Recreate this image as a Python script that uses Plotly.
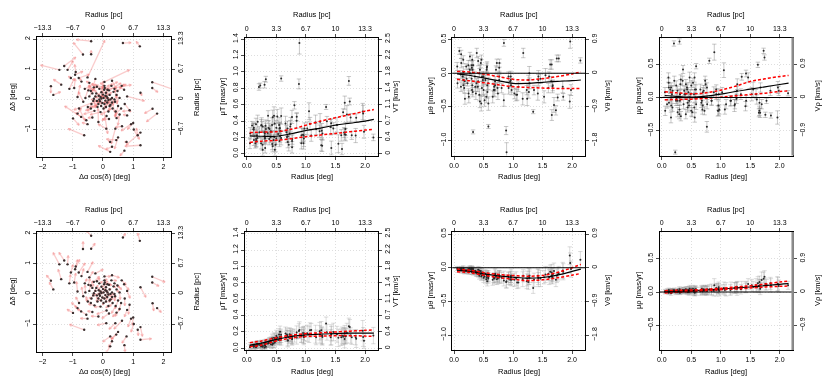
import numpy as np
import plotly.graph_objects as go

# ---------------- data ----------------
pos_x = [-0.39, 0.66, 1.22, -0.66, -0.39, -1.28, -1.44, -1.17, -0.90, -0.92,
         -1.06, -0.80, -0.51, -0.71, -1.72, -1.38, -1.11, -0.95, -1.64, -0.84,
         1.63, 1.63, 1.24, 1.64, 1.79, -0.79, -0.84, -0.99, -0.72, -0.55,
         -0.51, -0.62, 0.11, 0.41, 0.63, 0.80, 0.88, 0.93, 1.00, 1.02,
         1.15, 1.24, 1.24, 0.50, 0.44, 0.24, 0.30, 0.24, 0.78, 0.71,
         0.62, 0.70, 0.55, -0.60, -0.45, 0.30, -0.35, 0.20, 0.45, -0.65,
         0.72, -0.25, 0.05, -0.15, 0.80, 0.02, -0.05, 0.08, -0.10, 0.12,
         -0.14, 0.05, 0.18, -0.20, 0.10, -0.05, 0.22, -0.22, 0.25, -0.18,
         0.02, 0.30, -0.30, 0.15, -0.12, 0.35, -0.35, 0.32, -0.38, 0.40,
         -0.08, 0.18, -0.28, 0.45, -0.45, 0.05, -0.30, 0.28, 0.50, -0.50,
         0.12, -0.48, 0.55, 0.08, -0.02, 0.14, -0.12, 0.00, 0.20, -0.25,
         0.38, 0.10, -0.15, 0.25, -0.40, 0.38, 0.22, -0.08, 0.04, -0.20,
         0.42, -0.58, 0.48, 0.30, -0.32, 0.15, -0.06, 0.06, -0.40, 0.60]
pos_y = [1.93, 1.87, 1.76, 1.49, 1.50, 1.11, 0.98, 0.98, 0.91, 0.82,
         0.71, 0.71, 0.73, 0.59, 0.44, 0.49, 0.35, 0.38, 0.15, 0.08,
         0.57, 0.38, 0.22, -0.31, -0.47, -0.30, -0.47, -0.63, -0.58, -0.69,
         -0.82, -1.19, -0.97, -0.97, -0.89, -0.53, -0.36, -0.82, -0.78, -1.00,
         -1.19, -1.10, -1.52, -1.26, -1.35, -1.41, -1.57, -1.74, -1.41, -1.70,
         0.45, 0.32, -0.50, 0.35, 0.55, 0.62, -0.60, -0.65, -0.62, -0.08,
         -0.15, 0.68, 0.58, -0.75, 0.10, 0.05, 0.03, -0.04, -0.06, 0.10,
         0.12, -0.15, -0.02, -0.05, 0.22, 0.24, 0.15, 0.20, -0.18, -0.25,
         -0.30, 0.05, 0.02, 0.32, 0.35, 0.25, 0.20, -0.30, -0.15, -0.08,
         -0.42, -0.40, -0.38, 0.15, 0.10, 0.45, 0.40, 0.45, -0.22, -0.25,
         -0.55, 0.30, 0.05, 0.12, -0.12, -0.10, 0.00, 0.16, 0.30, 0.10,
         0.00, -0.25, -0.15, 0.00, -0.30, 0.35, -0.22, 0.08, 0.32, 0.42,
         -0.40, 0.05, 0.28, -0.10, -0.05, 0.05, -0.22, 0.38, 0.28, -0.30]

# observed proper motions (top row) [mas/yr]
mu_theta = [0.47, -0.25, 0.19, 0.13, -0.03, -0.47, 0.22, -0.35, -0.15, -0.25,
            0.00, -0.32, -1.17, -0.05, 0.22, -0.08, -0.38, -0.30, -0.12, -0.40,
            -0.55, -0.18, -0.10, -0.20, -0.35, 0.45, -0.10, 0.30, -0.22, -0.85,
            -0.18, -0.57, -0.25, -0.32, -0.20, -0.05, -0.12, -0.38, -0.28, -0.10,
            0.13, -0.62, -0.42, -0.25, -0.30, -0.05, -0.22, -0.36, -0.05, -0.20,
            -0.05, 0.15, -0.30, -0.18, 0.05, -0.25, -0.12, -0.20, 0.08, -0.35,
            -0.22, 0.15, -0.79, -0.10, -0.22, 0.10, -0.15, 0.33, -0.20, 0.20,
            -0.38, 0.02, -0.12, 0.10, 0.12, -0.30, 0.05, -0.08, 0.20, -0.18,
            0.08, -0.25, 0.12, -0.05, -0.30, 0.00, -0.20, -0.42, 0.18, -0.12,
            -0.32, 0.05, -0.22, -0.05, -0.45, 0.15, -0.25, -0.10, -0.35, 0.10,
            -0.18, -0.28, 0.05, -0.05, 0.15, -0.22, 0.28, -0.10, -0.20, 0.00,
            -0.15, 0.25, -0.08, -0.35, -0.05, -0.40, 0.05, -0.02, -0.87, 0.20,
            -0.15, -0.45, 0.08, -0.28, 0.12, -0.18, -0.15, 0.30, -0.10, -0.25]
mu_rho = [0.15, 0.10, 0.065, 0.49, 0.12, -0.10, 0.60, 0.05, 0.20, -0.12,
          0.10, -0.18, 0.68, 0.12, -0.05, 0.30, -0.05, 0.08, -0.23, -0.05,
          0.70, 0.15, 0.03, -0.23, -0.27, -0.05, -0.20, -0.05, 0.05, 0.08,
          0.05, 0.05, -0.18, 0.41, -0.10, -0.12, -0.20, -0.10, -0.02, 0.36,
          -0.20, -0.08, -0.30, 0.31, -0.13, -0.05, 0.05, -0.26, -0.03, 0.10,
          0.15, -0.10, 0.20, -0.12, 0.10, -0.18, 0.08, -0.05, 0.00, 0.12,
          0.25, -0.20, 0.47, -0.44, 0.55, 0.08, -0.20, -0.10, 0.22, -0.30,
          0.10, 0.15, -0.15, 0.81, -0.05, 0.18, 0.10, -0.25, 0.05, -0.05,
          0.84, 0.00, -0.18, 0.25, -0.10, 0.12, 0.05, -0.15, 0.20, -0.25,
          0.15, -0.08, 0.30, 0.00, -0.12, 0.08, -0.20, 0.22, 0.05, -0.30,
          0.12, 0.00, -0.15, 0.12, -0.08, 0.05, 0.15, -0.12, 0.42, -0.05,
          0.10, -0.22, 0.25, -0.02, 0.18, -0.22, 0.05, 0.30, 0.27, -0.05,
          0.12, -0.10, 0.30, 0.20, -0.28, 0.00, -0.82, 0.05, 0.05, -0.08]
err_theta = [0.10, 0.08, 0.04, 0.07, 0.10, 0.11, 0.05, 0.09, 0.08, 0.07,
             0.10, 0.08, 0.14, 0.07, 0.05, 0.07, 0.09, 0.08, 0.07, 0.09,
             0.07, 0.08, 0.07, 0.09, 0.05, 0.05, 0.10, 0.07, 0.09, 0.06,
             0.10, 0.03, 0.07, 0.09, 0.07, 0.08, 0.07, 0.10, 0.09, 0.08,
             0.07, 0.08, 0.10, 0.07, 0.10, 0.09, 0.07, 0.05, 0.07, 0.09,
             0.08, 0.06, 0.09, 0.07, 0.06, 0.10, 0.07, 0.07, 0.07, 0.09,
             0.08, 0.06, 0.03, 0.08, 0.07, 0.06, 0.07, 0.05, 0.07, 0.06,
             0.08, 0.08, 0.06, 0.04, 0.07, 0.07, 0.06, 0.07, 0.07, 0.07,
             0.04, 0.07, 0.06, 0.07, 0.09, 0.07, 0.07, 0.09, 0.07, 0.07,
             0.09, 0.07, 0.10, 0.07, 0.11, 0.07, 0.09, 0.07, 0.09, 0.07,
             0.07, 0.09, 0.07, 0.06, 0.07, 0.07, 0.06, 0.06, 0.07, 0.07,
             0.07, 0.06, 0.07, 0.09, 0.07, 0.09, 0.06, 0.06, 0.03, 0.07,
             0.09, 0.10, 0.07, 0.07, 0.07, 0.07, 0.04, 0.07, 0.09, 0.09]
err_rho = [0.09, 0.07, 0.04, 0.04, 0.11, 0.07, 0.04, 0.10, 0.08, 0.09,
           0.07, 0.07, 0.12, 0.07, 0.04, 0.07, 0.08, 0.07, 0.06, 0.06,
           0.04, 0.07, 0.07, 0.07, 0.04, 0.07, 0.07, 0.07, 0.08, 0.08,
           0.08, 0.08, 0.07, 0.11, 0.07, 0.07, 0.08, 0.07, 0.07, 0.05,
           0.07, 0.08, 0.10, 0.05, 0.07, 0.08, 0.07, 0.04, 0.07, 0.07,
           0.07, 0.07, 0.07, 0.08, 0.08, 0.07, 0.07, 0.06, 0.07, 0.08,
           0.07, 0.06, 0.04, 0.08, 0.04, 0.07, 0.07, 0.06, 0.07, 0.08,
           0.07, 0.07, 0.06, 0.04, 0.07, 0.07, 0.07, 0.07, 0.07, 0.07,
           0.04, 0.07, 0.07, 0.07, 0.07, 0.07, 0.07, 0.07, 0.07, 0.07,
           0.07, 0.07, 0.08, 0.07, 0.08, 0.07, 0.08, 0.07, 0.07, 0.07,
           0.08, 0.07, 0.07, 0.06, 0.06, 0.06, 0.07, 0.07, 0.06, 0.07,
           0.07, 0.07, 0.07, 0.07, 0.07, 0.07, 0.06, 0.07, 0.07, 0.07,
           0.07, 0.08, 0.07, 0.07, 0.07, 0.07, 0.03, 0.07, 0.07, 0.07]

# model proper motions (bottom row) [mas/yr]
model_theta = [0.07, -0.02, 0.12, -0.06, -0.10, -0.05, -0.12, -0.14, -0.12, -0.20,
               -0.15, -0.22, -0.20, -0.14, -0.08, -0.16, -0.17, -0.18, -0.13, -0.19,
               -0.18, -0.10, -0.21, -0.14, -0.06, -0.13, -0.15, -0.12, -0.16, -0.21,
               -0.12, -0.30, -0.18, -0.16, -0.22, -0.14, -0.18, -0.16, -0.13, -0.15,
               -0.07, -0.11, 0.18, -0.18, -0.12, -0.16, -0.09, -0.10, -0.14, -0.04,
               -0.12, -0.14, -0.16, -0.10, -0.13, -0.15, -0.09, -0.16, -0.11, -0.18,
               -0.14, -0.17, -0.12, -0.14, -0.15, -0.01, -0.03, -0.02, -0.04, -0.01,
               -0.05, -0.02, -0.03, -0.04, -0.02, -0.05, -0.01, -0.06, -0.03, -0.04,
               -0.02, -0.06, -0.01, -0.05, -0.07, -0.04, -0.08, -0.10, -0.03, -0.09,
               -0.12, -0.06, -0.11, -0.07, -0.13, -0.05, -0.15, -0.09, -0.17, -0.10,
               -0.20, -0.12, -0.14, -0.03, -0.02, -0.05, -0.01, -0.04, -0.05, -0.03,
               -0.08, -0.02, -0.04, -0.06, -0.11, -0.13, -0.03, -0.02, -0.07, -0.08,
               -0.16, -0.14, -0.11, -0.05, -0.02, -0.03, -0.04, -0.06, -0.10, -0.15]
model_rho = [0.12, 0.09, 0.10, 0.13, 0.08, 0.18, 0.23, 0.10, 0.07, 0.06,
             0.05, 0.03, 0.10, 0.06, 0.11, 0.12, 0.03, 0.04, 0.09, 0.04,
             0.20, 0.11, 0.07, 0.05, 0.10, 0.02, 0.05, 0.06, 0.03, 0.02,
             0.07, 0.04, 0.02, 0.06, 0.04, 0.03, 0.05, 0.06, 0.08, 0.07,
             0.09, 0.15, 0.12, 0.08, 0.06, 0.08, 0.10, 0.12, 0.07, 0.13,
             0.02, 0.04, 0.03, 0.01, 0.04, 0.02, 0.03, 0.05, 0.02, 0.01,
             0.03, 0.02, 0.01, 0.02, 0.04, 0.01, 0.00, 0.02, -0.01, 0.01,
             0.02, -0.02, 0.02, 0.03, 0.01, 0.00, 0.03, 0.01, 0.02, -0.01,
             0.04, 0.02, 0.00, 0.03, 0.01, 0.02, 0.02, 0.00, 0.04, 0.01,
             0.03, 0.01, 0.05, 0.02, 0.00, 0.03, 0.02, 0.05, 0.01, -0.01,
             0.03, 0.04, 0.00, 0.02, 0.00, 0.02, 0.03, 0.01, 0.03, 0.01,
             0.02, 0.00, 0.02, 0.01, 0.04, 0.02, 0.02, 0.01, 0.02, 0.03,
             0.04, 0.02, 0.03, 0.02, 0.00, 0.01, 0.00, 0.03, 0.02, 0.03]
model_err_theta = [0.15, 0.12, 0.12, 0.10, 0.12, 0.12, 0.10, 0.10, 0.10, 0.11,
                   0.10, 0.09, 0.10, 0.08, 0.10, 0.12, 0.11, 0.10, 0.10, 0.08,
                   0.10, 0.10, 0.11, 0.10, 0.12, 0.08, 0.10, 0.09, 0.09, 0.09,
                   0.10, 0.08, 0.09, 0.10, 0.08, 0.08, 0.08, 0.11, 0.12, 0.13,
                   0.12, 0.10, 0.13, 0.10, 0.10, 0.09, 0.10, 0.10, 0.11, 0.12,
                   0.08, 0.09, 0.08, 0.07, 0.08, 0.07, 0.08, 0.08, 0.07, 0.08,
                   0.07, 0.08, 0.08, 0.08, 0.08, 0.03, 0.04, 0.03, 0.04, 0.04,
                   0.04, 0.04, 0.04, 0.04, 0.04, 0.04, 0.04, 0.04, 0.04, 0.04,
                   0.04, 0.04, 0.04, 0.05, 0.05, 0.05, 0.05, 0.05, 0.05, 0.05,
                   0.05, 0.05, 0.06, 0.06, 0.06, 0.05, 0.07, 0.06, 0.07, 0.06,
                   0.07, 0.06, 0.07, 0.03, 0.03, 0.04, 0.03, 0.04, 0.05, 0.04,
                   0.05, 0.04, 0.04, 0.04, 0.06, 0.06, 0.04, 0.03, 0.04, 0.05,
                   0.07, 0.07, 0.06, 0.04, 0.04, 0.03, 0.04, 0.05, 0.06, 0.07]
model_err_rho = [0.10, 0.09, 0.06, 0.10, 0.08, 0.12, 0.09, 0.09, 0.09, 0.08,
                 0.10, 0.08, 0.10, 0.07, 0.08, 0.08, 0.08, 0.07, 0.09, 0.08,
                 0.10, 0.08, 0.07, 0.09, 0.10, 0.07, 0.08, 0.09, 0.09, 0.08,
                 0.08, 0.07, 0.08, 0.09, 0.10, 0.06, 0.07, 0.08, 0.07, 0.08,
                 0.10, 0.09, 0.11, 0.08, 0.07, 0.08, 0.10, 0.09, 0.07, 0.09,
                 0.06, 0.06, 0.07, 0.05, 0.06, 0.06, 0.05, 0.05, 0.06, 0.06,
                 0.06, 0.07, 0.06, 0.07, 0.07, 0.03, 0.03, 0.03, 0.03, 0.03,
                 0.03, 0.03, 0.03, 0.03, 0.03, 0.04, 0.03, 0.04, 0.03, 0.03,
                 0.04, 0.03, 0.03, 0.04, 0.04, 0.04, 0.04, 0.04, 0.04, 0.04,
                 0.05, 0.04, 0.05, 0.05, 0.05, 0.05, 0.05, 0.05, 0.06, 0.05,
                 0.06, 0.05, 0.05, 0.03, 0.03, 0.03, 0.03, 0.03, 0.04, 0.03,
                 0.04, 0.03, 0.03, 0.03, 0.05, 0.05, 0.03, 0.03, 0.04, 0.05,
                 0.05, 0.05, 0.05, 0.04, 0.03, 0.03, 0.03, 0.04, 0.05, 0.06]

# fitted radial profiles (solid = fit, dashed = band)
fit_r = [0.05, 0.25, 0.5, 0.75, 1.0, 1.25, 1.5, 1.75, 2.0, 2.15]
obs_T_mid = [0.22, 0.215, 0.215, 0.245, 0.285, 0.315, 0.35, 0.375, 0.40, 0.42]
obs_T_hi = [0.26, 0.265, 0.27, 0.30, 0.35, 0.40, 0.44, 0.48, 0.52, 0.54]
obs_T_lo = [0.14, 0.155, 0.165, 0.185, 0.21, 0.23, 0.25, 0.27, 0.29, 0.30]
obs_th_mid = [-0.01, -0.03, -0.07, -0.11, -0.15, -0.15, -0.135, -0.12, -0.11, -0.10]
obs_th_hi = [0.025, 0.02, -0.01, -0.05, -0.09, -0.10, -0.08, -0.05, -0.01, 0.02]
obs_th_lo = [-0.09, -0.11, -0.14, -0.17, -0.20, -0.21, -0.22, -0.225, -0.225, -0.225]
obs_rh_mid = [0.03, 0.015, 0.005, 0.02, 0.05, 0.09, 0.125, 0.16, 0.195, 0.215]
obs_rh_hi = [0.085, 0.07, 0.055, 0.07, 0.11, 0.17, 0.24, 0.28, 0.315, 0.33]
obs_rh_lo = [-0.035, -0.03, -0.025, -0.01, 0.005, 0.025, 0.045, 0.065, 0.09, 0.10]
mod_T_mid = [0.04, 0.065, 0.11, 0.145, 0.165, 0.175, 0.18, 0.185, 0.185, 0.185]
mod_T_hi = [0.07, 0.09, 0.13, 0.16, 0.18, 0.19, 0.20, 0.21, 0.22, 0.225]
mod_T_lo = [0.02, 0.04, 0.09, 0.125, 0.145, 0.15, 0.155, 0.155, 0.15, 0.145]
mod_th_mid = [-0.035, -0.05, -0.09, -0.12, -0.14, -0.155, -0.145, -0.11, -0.055, -0.02]
mod_th_hi = [-0.02, -0.035, -0.07, -0.10, -0.115, -0.125, -0.115, -0.07, 0.0, 0.05]
mod_th_lo = [-0.06, -0.07, -0.11, -0.145, -0.17, -0.19, -0.18, -0.15, -0.11, -0.085]
mod_rh_mid = [0.0, 0.01, 0.02, 0.03, 0.045, 0.06, 0.075, 0.095, 0.115, 0.125]
mod_rh_hi = [0.02, 0.025, 0.03, 0.04, 0.055, 0.075, 0.095, 0.12, 0.15, 0.165]
mod_rh_lo = [-0.015, -0.005, 0.01, 0.02, 0.035, 0.045, 0.06, 0.075, 0.085, 0.09]

# tick labels
deg_ticks = [0, 0.5, 1.0, 1.5, 2.0]
deg_labels = ["0.0", "0.5", "1.0", "1.5", "2.0"]
pc_labels = ["0", "3.3", "6.7", "10", "13.3"]
sky_ticks_x = [-2, -1, 0, 1, 2]
sky_labels_x = ["\u22122", "\u22121", "0", "1", "2"]
sky_pc_x = ["\u221213.3", "\u22126.7", "0", "6.7", "13.3"]
sky_ticks_y = [-1, 0, 1, 2]
sky_labels_y = ["\u22121", "0", "1", "2"]
sky_pc_y = ["\u22126.7", "0", "6.7", "13.3"]
muT_ticks = [0, 0.2, 0.4, 0.6, 0.8, 1.0, 1.2, 1.4]
muT_labels = ["0.0", "0.2", "0.4", "0.6", "0.8", "1.0", "1.2", "1.4"]
VT_labels = ["0", "0.4", "0.7", "1.1", "1.4", "1.8", "2.2", "2.5"]
muth_ticks = [-1.0, -0.5, 0.0, 0.5]
muth_labels = ["\u22121.0", "\u22120.5", "0.0", "0.5"]
Vth_labels = ["\u22121.8", "\u22120.9", "0", "0.9"]
murh_ticks = [-0.5, 0.0, 0.5]
murh_labels = ["\u22120.5", "0.0", "0.5"]
Vrh_labels = ["\u22120.9", "0", "0.9"]

# ---------------- figure construction ----------------
W, H = 830, 388
FONT = "Liberation Sans, Arial, Helvetica, sans-serif"
TXT = "#000000"

x = np.array(pos_x)
y = np.array(pos_y)
r = np.hypot(x, y)


def total(th, rh, eth, erh):
    th, rh, eth, erh = map(np.asarray, (th, rh, eth, erh))
    T = np.hypot(th, rh)
    eT = np.sqrt((th * eth) ** 2 + (rh * erh) ** 2) / np.maximum(T, 1e-6)
    return T, eT


col_x = [(37, 171), (245, 378), (452.3, 585), (660, 792.7)]
row_off = [0, 194.5]
row_y = [(37, 157), (37.5, 155.5), (37.5, 155.5), (37.5, 155.5)]
left_title_px = [12, 222, 430, 638]
right_title_px = [196, 395, 607, 817]

xr_rad = [-0.03, 2.22]
panel_specs = [
    dict(xr=[-2.18, 2.25], yr=[-1.91, 2.07], xt=sky_ticks_x, xl=sky_labels_x, xtop=sky_pc_x,
         yt=sky_ticks_y, yl=sky_labels_y, yright=sky_pc_y,
         bt="\u0394\u03b1 cos(\u03b4) [deg]", lt="\u0394\u03b4 [deg]", rt="Radius [pc]"),
    dict(xr=xr_rad, yr=[-0.02, 1.42], xt=deg_ticks, xl=deg_labels, xtop=pc_labels,
         yt=muT_ticks, yl=muT_labels, yright=VT_labels,
         bt="Radius [deg]", lt="\u03bcT [mas/yr]", rt="VT [km/s]"),
    dict(xr=xr_rad, yr=[-1.22, 0.53], xt=deg_ticks, xl=deg_labels, xtop=pc_labels,
         yt=muth_ticks, yl=muth_labels, yright=Vth_labels,
         bt="Radius [deg]", lt="\u03bc\u03b8 [mas/yr]", rt="V\u03b8 [km/s]"),
    dict(xr=xr_rad, yr=[-0.87, 0.90], xt=deg_ticks, xl=deg_labels, xtop=pc_labels,
         yt=murh_ticks, yl=murh_labels, yright=Vrh_labels,
         bt="Radius [deg]", lt="\u03bc\u03c1 [mas/yr]", rt="V\u03c1 [km/s]"),
]


def key(letter, n):
    return f"{letter}axis" if n == 1 else f"{letter}axis{n}"


def ref(letter, n):
    return letter if n == 1 else f"{letter}{n}"


fig = go.Figure()
layout = dict(template="none", width=W, height=H, margin=dict(l=0, r=0, t=0, b=0),
              paper_bgcolor="white", plot_bgcolor="white", showlegend=False,
              font=dict(family=FONT, color=TXT))
annotations = []
shapes = []
tickfont = dict(size=7, family=FONT, color=TXT)


def title(text, px, py, angle=0):
    annotations.append(dict(text=text, x=px / W, y=1 - py / H, xref="paper", yref="paper",
                            showarrow=False, textangle=angle, xanchor="center", yanchor="middle",
                            font=dict(size=7.5, family=FONT, color=TXT)))


GRID = dict(showgrid=True, gridcolor="#d6d6d6", griddash="1px,2px", gridwidth=0.8)

for row in range(2):
    for col in range(4):
        k = row * 4 + col + 1
        s = panel_specs[col]
        x0, x1 = col_x[col]
        t0, t1 = row_y[col]
        t0 += row_off[row]
        t1 += row_off[row]
        common = dict(ticks="outside", ticklen=3, tickwidth=0.7, tickcolor="black",
                      zeroline=False, tickfont=tickfont, fixedrange=True, tickmode="array")
        layout[key("x", k)] = dict(domain=[x0 / W, x1 / W], range=s["xr"], anchor=ref("y", k),
                                   tickvals=s["xt"], ticktext=s["xl"], showline=True,
                                   linecolor="black", linewidth=1, mirror=True, **GRID, **common)
        layout[key("y", k)] = dict(domain=[1 - t1 / H, 1 - t0 / H], range=s["yr"], anchor=ref("x", k),
                                   tickvals=s["yt"], ticktext=s["yl"], tickangle=-90, showline=True,
                                   linecolor="black", linewidth=1, mirror=True, **GRID, **common)
        layout[key("x", 8 + k)] = dict(overlaying=ref("x", k), side="top", anchor=ref("y", k),
                                       range=s["xr"], tickvals=s["xt"], ticktext=s["xtop"],
                                       showline=False, showgrid=False, **common)
        layout[key("y", 8 + k)] = dict(overlaying=ref("y", k), side="right", anchor=ref("x", k),
                                       range=s["yr"], tickvals=s["yt"], ticktext=s["yright"],
                                       tickangle=-90, showline=False, showgrid=False, **common)
        # dummy traces so the secondary axes are drawn
        fig.add_trace(go.Scatter(x=[None], y=[None], xaxis=ref("x", 8 + k), yaxis=ref("y", k),
                                 hoverinfo="skip", showlegend=False))
        fig.add_trace(go.Scatter(x=[None], y=[None], xaxis=ref("x", k), yaxis=ref("y", 8 + k),
                                 hoverinfo="skip", showlegend=False))
        # titles
        xm = (x0 + x1) / 2
        ym = (t0 + t1) / 2
        title("Radius [pc]", xm, 15 + row_off[row])
        title(s["bt"], xm, 177 + row_off[row])
        title(s["lt"], left_title_px[col], ym, -90)
        title(s["rt"], right_title_px[col], ym, -90)

# ---------------- data traces ----------------
sets = [
    (mu_theta, mu_rho, err_theta, err_rho, 1.0,
     (obs_T_mid, obs_T_hi, obs_T_lo), (obs_th_mid, obs_th_hi, obs_th_lo), (obs_rh_mid, obs_rh_hi, obs_rh_lo),
     "rgba(120,120,120,0.5)"),
    (model_theta, model_rho, model_err_theta, model_err_rho, 1.7,
     (mod_T_mid, mod_T_hi, mod_T_lo), (mod_th_mid, mod_th_hi, mod_th_lo), (mod_rh_mid, mod_rh_hi, mod_rh_lo),
     "rgba(150,150,150,0.42)"),
]

for row, (th, rh, eth, erh, scale, fT, fth, frh, ecol) in enumerate(sets):
    th = np.array(th)
    rh = np.array(rh)
    base = row * 4
    # sky map with proper-motion arrows (radial/tangential -> Cartesian)
    ux, uy = x / r, y / r
    dx = scale * (rh * ux - th * uy)
    dy = scale * (rh * uy + th * ux)
    head = 0.09
    for i in range(len(x)):
        xe, ye = x[i] + dx[i], y[i] + dy[i]
        ang = np.arctan2(dy[i], dx[i])
        hx1 = xe - head * np.cos(ang + 0.45)
        hy1 = ye - head * np.sin(ang + 0.45)
        hx2 = xe - head * np.cos(ang - 0.45)
        hy2 = ye - head * np.sin(ang - 0.45)
        fig.add_trace(go.Scatter(x=[x[i], xe, None, hx1, xe, hx2], y=[y[i], ye, None, hy1, ye, hy2],
                                 mode="lines", line=dict(color="rgba(240,100,100,0.33)", width=1.3),
                                 xaxis=ref("x", base + 1), yaxis=ref("y", base + 1), hoverinfo="skip"))
    fig.add_trace(go.Scatter(x=x, y=y, mode="markers",
                             marker=dict(size=2.4, color="#3a2e2e"),
                             xaxis=ref("x", base + 1), yaxis=ref("y", base + 1), hoverinfo="skip"))

    T, eT = total(th, rh, eth, erh)
    for j, (vals, errs, fit) in enumerate([(T, eT, fT), (th, eth, fth), (rh, erh, frh)]):
        k = base + 2 + j
        if j > 0:
            shapes.append(dict(type="line", xref=f"{ref('x', k)} domain", x0=0, x1=1,
                               yref=ref("y", k), y0=0, y1=0, line=dict(color="black", width=1)))
        fig.add_trace(go.Scatter(x=r, y=vals, mode="markers",
                                 marker=dict(size=2.0, color="#2a2a2a"),
                                 error_y=dict(type="data", array=np.asarray(errs), color=ecol,
                                              thickness=0.8, width=2.2),
                                 xaxis=ref("x", k), yaxis=ref("y", k), hoverinfo="skip"))
        mid, hi, lo = fit
        fig.add_trace(go.Scatter(x=fit_r, y=mid, mode="lines", line=dict(color="black", width=1.2, shape="spline"),
                                 xaxis=ref("x", k), yaxis=ref("y", k), hoverinfo="skip"))
        for band in (hi, lo):
            fig.add_trace(go.Scatter(x=fit_r, y=band, mode="lines",
                                     line=dict(color="red", width=1.5, dash="3px,2px", shape="spline"),
                                     xaxis=ref("x", k), yaxis=ref("y", k), hoverinfo="skip"))
    # grey right edge seen on the rho panels
    k = base + 4
    shapes.append(dict(type="line", xref=f"{ref('x', k)} domain", x0=1, x1=1,
                       yref=f"{ref('y', k)} domain", y0=0, y1=1, line=dict(color="#8c8c8c", width=2.5)))

layout["annotations"] = annotations
layout["shapes"] = shapes
fig.update_layout(**layout)
fig.write_html(
    "out.html",
    config={"displayModeBar": False, "staticPlot": True},
    post_script=(
        "document.body.style.margin='0';document.body.style.overflow='hidden';"
        "document.querySelectorAll('.plotly-graph-div').forEach(function(d){"
        "d.style.opacity='0.999';d.style.willChange='transform';});"
    ),
)
